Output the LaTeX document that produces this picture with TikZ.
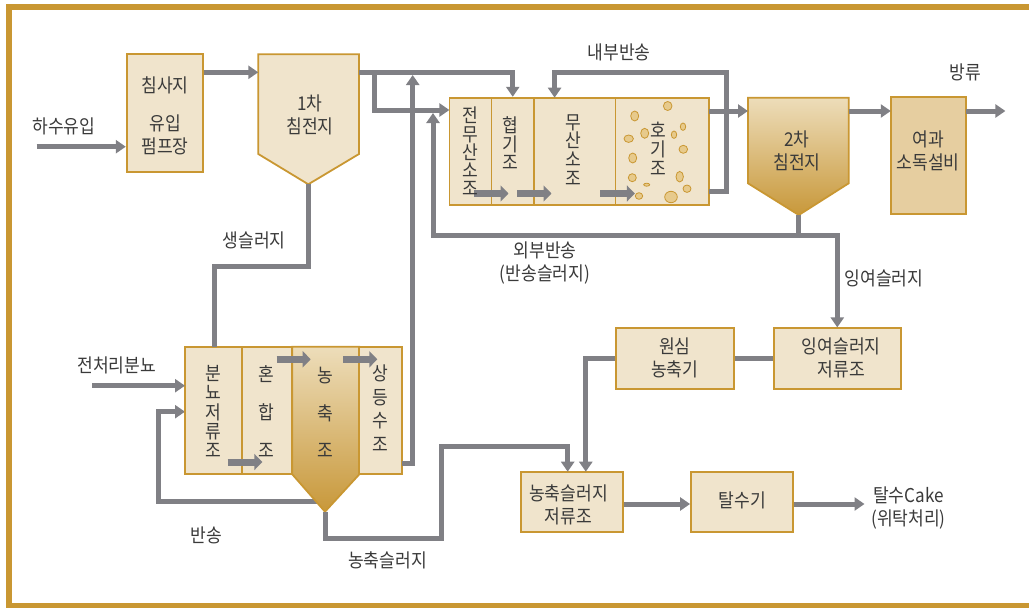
\documentclass[tikz,border=0pt]{standalone}
\usepackage{fontspec}
\setmainfont{Noto Sans CJK KR}[FakeStretch=0.9]
\usetikzlibrary{arrows.meta}
\definecolor{rim}{RGB}{201,151,50}
\definecolor{cream}{RGB}{240,228,204}
\definecolor{sand}{RGB}{230,206,160}
\definecolor{steel}{RGB}{128,128,133}
\definecolor{ink}{RGB}{58,58,58}
\definecolor{floc}{RGB}{231,202,140}
\definecolor{shadelight}{RGB}{237,221,186}
\definecolor{shadedark}{RGB}{200,152,58}
\begin{document}
\begin{tikzpicture}[x=1pt,y=-1pt,
  tank/.style={draw=rim, fill=cream, line width=1.8pt, inner sep=0pt},
  hopper/.style={draw=rim, line width=1.8pt, line join=miter},
  lbl/.style={text=ink, font=\fontsize{19}{23}\selectfont, align=center, inner sep=0pt},
  vlbl/.style={text=ink, font=\fontsize{19}{#1}\selectfont, align=center, inner sep=0pt},
  pipe/.style={draw=steel, line width=5pt, line join=miter},
  flow/.style={pipe, -{Triangle[length=10pt,width=13pt]}},
  inflow/.style={draw=steel, line width=7pt, -{Triangle[length=8pt,width=16pt]}},
]
\useasboundingbox (0,0) rectangle (1029,608);
\clip (0,0) rectangle (1029,608);

% outer frame (open on the right)
\draw[rim, line width=6pt] (1045,6.5) -- (9,6.5) -- (9,605.7) -- (1045,605.7);

% ---- named attachment points ----
\coordinate (inlet) at (36.7,146.7);
\coordinate (p1in) at (258.3,72.3);
\coordinate (p1out) at (359,72.3);
\coordinate (p1apex) at (308.3,184.3);
\coordinate (split) at (374,72.3);
\coordinate (prein) at (449.4,110);
\coordinate (join) at (412.7,75);
\coordinate (retin) at (433,113);
\coordinate (anoxin) at (554.6,97.7);
\coordinate (aerret) at (709.3,191.7);
\coordinate (bioout) at (709.3,111);
\coordinate (s2in) at (748,111);
\coordinate (s2out) at (848.7,111);
\coordinate (s2apex) at (798.8,215);
\coordinate (filtin) at (890.8,111);
\coordinate (filtout) at (966,111);
\coordinate (outlet) at (1005.4,111);
\coordinate (storetop) at (214.3,346.7);
\coordinate (nightsoil) at (92,385.7);
\coordinate (storein1) at (185,385.7);
\coordinate (storein2) at (185,411.7);
\coordinate (thback) at (325,501.7);
\coordinate (thapex) at (325,511.7);
\coordinate (supout) at (401.7,463.3);
\coordinate (tsin1) at (567.7,471.7);
\coordinate (tsin2) at (585.8,471.7);
\coordinate (cakeout) at (864.5,504);

% return from the thickener cone, drawn beneath it
\draw[flow] (thback) -- (158.3,501.7) -- (158.3,411.7) -- (storein2);

% ---- tanks ----
\node[tank, minimum width=76pt, minimum height=118pt] (pump) at (164.7,113.3) {};
\draw[hopper, fill=cream] (258.3,54.3) -- (359,54.3) -- (359,154) -- (p1apex) -- (258.3,154) -- cycle;

\node[tank, minimum width=42.1pt, minimum height=107.3pt] (pre) at (470.45,151.35) {};
\node[tank, minimum width=42.5pt, minimum height=107.3pt] (ana) at (512.75,151.35) {};
\node[tank, minimum width=81.4pt, minimum height=107.3pt] (anox) at (574.7,151.35) {};
\node[tank, minimum width=93.9pt, minimum height=107.3pt] (aer) at (662.35,151.35) {};

\draw[hopper, top color=shadelight, bottom color=shadedark]
  (748,97.7) -- (848.7,97.7) -- (848.7,183.3) -- (s2apex) -- (748,183.3) -- cycle;
\node[tank, fill=sand, minimum width=75.2pt, minimum height=117.3pt] (filt) at (928.4,155.35) {};

\node[tank, minimum width=57.3pt, minimum height=127.6pt] (store) at (213.65,410.5) {};
\node[tank, minimum width=50pt, minimum height=127.6pt] (mix) at (267.3,410.5) {};
\draw[hopper, top color=shadelight, bottom color=shadedark]
  (292.3,346.7) -- (359.3,346.7) -- (359.3,474.3) -- (thapex) -- (292.3,474.3) -- cycle;
\node[tank, minimum width=42.4pt, minimum height=127.6pt] (sup) at (380.5,410.5) {};

\node[tank, minimum width=118pt, minimum height=60.7pt] (cent) at (674.8,358.65) {};
\node[tank, minimum width=127.4pt, minimum height=60.7pt] (excess) at (837.3,358.65) {};
\node[tank, minimum width=102.2pt, minimum height=60.6pt] (tstore) at (571.9,502) {};
\node[tank, minimum width=102pt, minimum height=60.6pt] (dewater) at (742,502) {};

% ---- piping ----
\draw[flow] (inlet) -- (inlet -| pump.west);
\draw[flow] (pump.east |- p1in) -- (p1in);
\draw[flow] (p1out) -| (ana.north);
\draw[flow] (split) |- (prein);
\draw[flow] (supout) -| (join);
\draw[flow] (s2apex) |- (433,235.7) -- (retin);
\draw[flow] (798.8,235.7) -| (excess.north);
\draw[flow] (aerret) -| (726,72.3) -| (anoxin);
\draw[flow] (bioout) -- (s2in);
\draw[flow] (s2out) -- (filtin);
\draw[flow] (filtout) -- (outlet);
\draw[pipe] (p1apex) |- (214.3,266.7) -- (storetop);
\draw[flow] (nightsoil) -- (storein1);
\draw[flow] (thapex) |- (441.7,538.3) |- (567.7,446.7) -- (tsin1);
\draw[flow] (cent.west |- 0,358.3) -| (tsin2);
\draw[pipe] (cent.east |- 0,358.3) -- (excess.west |- 0,358.3);
\draw[flow] (tstore.east |- 0,504) -- (dewater.west |- 0,504);
\draw[flow] (dewater.east |- 0,504) -- (cakeout);

% flow arrows inside the basins
\draw[inflow] (474.3,193.5) -- (508.5,193.5);
\draw[inflow] (517.3,193.5) -- (551.5,193.5);
\draw[inflow] (600.4,193.5) -- (634.8,193.5);
\draw[inflow] (276.7,359.3) -- (310.7,359.3);
\draw[inflow] (343.3,359.3) -- (377.3,359.3);
\draw[inflow] (227.7,462) -- (262.3,462);

% air bubbles in the aeration basin
\foreach \bx/\by/\ra/\rb in {667.7/106/4.3/4.5, 634.7/116/4/5, 683/126.7/2.7/3.7,
    644.7/133.3/4/5, 674/134.7/2.7/3.7, 628.7/138.7/4.7/3.7, 683.3/149.3/4.3/4,
    632.7/158/4/5, 679.7/176.7/3.7/5.3, 632.3/177.7/4/4, 646.7/184.7/3/1.5,
    687/188.7/4/3.7, 639/196/3.7/3.3, 671/197/6.3/5.7}
  \filldraw[fill=floc, draw=rim, line width=0.8pt] (\bx,\by) ellipse [x radius=\ra pt, y radius=\rb pt];

% ---- labels ----
\node[lbl] (tInflow) at (64,126) {하수유입};
\node[lbl] (tGrit) at (165,85) {침사지};
\node[lbl] (tPump) at (165,134.5) {유입\\펌프장};
\node[lbl] (tPrim) at (310,114.5) {1차\\침전지};
\node[lbl] (tRaw) at (254,240) {생슬러지};
\node[lbl] (tInt) at (619,52) {내부반송};
\node[lbl] (tOut) at (965,72) {방류};
\node[lbl] (tSec) at (797,151) {2차\\침전지};
\node[lbl] (tFilt) at (928,151) {여과\\소독설비};
\node[lbl] (tExt) at (545,263) {외부반송\\(반송슬러지)};
\node[lbl] (tWas) at (884,278) {잉여슬러지};
\node[lbl] (tSoil) at (116.7,365) {전처리분뇨};
\node[lbl] (tBack) at (206.7,535) {반송};
\node[lbl] (tThick) at (387.5,560) {농축슬러지};
\node[lbl] (tCent) at (674.8,358.3) {원심\\농축기};
\node[lbl] (tExc) at (841.2,358.3) {잉여슬러지\\저류조};
\node[lbl] (tTst) at (568.5,505) {농축슬러지\\저류조};
\node[lbl] (tDew) at (742.4,500) {탈수기};
\node[lbl] (tCake) at (908.5,507.5) {탈수Cake\\(위탁처리)};

\node[vlbl=18.25] (vPre) at (470,151.5) {전\\무\\산\\소\\조};
\node[vlbl=18.5] (vAna) at (510.6,143.5) {협\\기\\조};
\node[vlbl=18.9] (vAnox) at (573.4,150) {무\\산\\소\\조};
\node[vlbl=19] (vAer) at (658.4,148.3) {호\\기\\조};
\node[vlbl=19.25] (vStore) at (213.3,411.5) {분\\뇨\\저\\류\\조};
\node[vlbl=18.5] (vMix) at (266.7,411.7) {혼\\[19.8pt]합\\[19.8pt]조};
\node[vlbl=18.5] (vThick) at (325.7,412.5) {농\\[19pt]축\\[19pt]조};
\node[vlbl=23.5] (vSup) at (380,408) {상\\등\\수\\조};
\end{tikzpicture}
\end{document}
